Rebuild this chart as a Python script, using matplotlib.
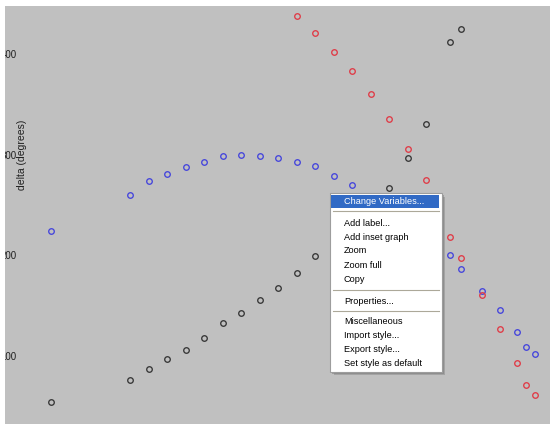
import matplotlib
matplotlib.use("Agg")
import matplotlib.pyplot as plt
from matplotlib.patches import Rectangle
from matplotlib.lines import Line2D

# --- data -------------------------------------------------------------
blue_x = [-3.3, 1, 2, 3, 4, 5, 6, 7, 8, 9, 10, 11, 12, 13,
          18.3, 18.9, 20.0, 21.0, 21.9, 22.4, 22.9]
blue_y = [224, 260, 274, 281, 288, 293, 299, 300, 299, 297, 293, 289, 279, 270,
          200, 186, 165, 146, 124, 109, 102]

red_x = [10, 11, 12, 13, 14, 15, 16, 17,
         18.3, 18.9, 20.0, 21.0, 21.9, 22.4, 22.9]
red_y = [438, 421, 402, 383, 360, 335, 306, 275,
         218, 197, 161, 127, 93, 71, 61]

black_x = [-3.3, 1, 2, 3, 4, 5, 6, 7, 8, 9, 10, 11,
           15, 16, 17, 18.3, 18.9]
black_y = [54, 76, 87, 97, 106, 118, 133, 143, 156, 168, 182, 199,
           267, 297, 330, 412, 425]

y_ticks = [100, 200, 300, 400]
y_label = "delta (degrees)"

menu_items = ["Change Variables...", None, "Add label...", "Add inset graph",
              "Zoom", "Zoom full", "Copy", None, "Properties...", None,
              "Miscellaneous", "Import style...", "Export style...",
              "Set style as default"]

# --- figure -----------------------------------------------------------
W, H = 550, 424
GRAY = "#c0c0c0"
fig = plt.figure(figsize=(W / 100, H / 100), dpi=100, facecolor="white")


def fx(px):
    return px / W


def fy(py):
    return 1 - py / H


ax = fig.add_axes([0, 0, 1, 1], facecolor=GRAY)
ax.set_xlim(-6.03, 23.70)
ax.set_ylim(32.45, 453.64)
for s in ax.spines.values():
    s.set_visible(False)
ax.set_xticks([])
ax.set_yticks(y_ticks)
ax.set_yticklabels([str(t) for t in y_ticks], family="Liberation Sans",
                   fontsize=7.0, color="#202020")
ax.tick_params(axis="y", length=0, pad=-11.0)
ax.set_ylabel(y_label, family="Liberation Sans", fontsize=7.5, color="#202020")

# keep the tick labels just inside the left edge, ylabel right next to them
fig.canvas.draw()
rend = fig.canvas.get_renderer()
ext = [t.get_window_extent(rend) for t in ax.get_yticklabels()]
shift_px = 0.5 - min(e.x0 for e in ext)
ax.tick_params(axis="y", pad=-11.0 - shift_px * 72 / 100)
tick_right = max(e.x1 for e in ext) + shift_px
lab_w = ax.yaxis.label.get_window_extent(rend).width
ax.yaxis.set_label_coords(fx(tick_right + 0.5 + lab_w), fy(155))

mk = dict(linestyle="none", marker="o", markersize=4.0, markeredgewidth=0.95,
          markerfacecolor="none", clip_on=True)
ax.plot(black_x, black_y, markeredgecolor="#363636", **mk)
ax.plot(blue_x, blue_y, markeredgecolor="#4444dc", **mk)
ax.plot(red_x, red_y, markeredgecolor="#e03a46", **mk)

# white window margins on the left and top
fig.add_artist(Rectangle((0, 0), fx(5), 1, transform=fig.transFigure,
                         facecolor="white", edgecolor="none", zorder=10))
fig.add_artist(Rectangle((0, fy(6)), 1, 6 / H, transform=fig.transFigure,
                         facecolor="white", edgecolor="none", zorder=10))

# --- context menu -----------------------------------------------------
mx0, mx1, my0, my1 = 330, 442, 193, 372


def prect(x0, y0, x1, y1, z, **kw):
    fig.add_artist(Rectangle((fx(x0), fy(y1)), fx(x1) - fx(x0), fy(y0) - fy(y1),
                             transform=fig.transFigure, zorder=z, **kw))


prect(mx0 + 4, my0 + 4, mx1 + 3, my1 + 3, 20, facecolor="#8c8c8c",
      edgecolor="none", alpha=0.55)
prect(mx0 + 2, my0 + 2, mx1 + 2, my1 + 2, 20.5, facecolor="#7a7a7a",
      edgecolor="none", alpha=0.5)
prect(mx0, my0, mx1, my1, 21, facecolor="white", edgecolor="#9d9d9d",
      linewidth=0.8)
prect(331, 195, 439, 208, 22, facecolor="#316ac5", edgecolor="none")

text_y = {0: 201.5, 2: 223, 3: 237, 4: 251, 5: 265, 6: 279, 8: 301,
          10: 322, 11: 336, 12: 350, 13: 364}
sep_y = {1: 211, 7: 289.5, 9: 311}
for i, item in enumerate(menu_items):
    if item is None:
        fig.add_artist(Line2D([fx(333), fx(439)], [fy(sep_y[i])] * 2,
                              transform=fig.transFigure, color="#aca899",
                              linewidth=0.8, zorder=22))
        continue
    fig.text(fx(344), fy(text_y[i]), item, ha="left", va="center",
             family="Liberation Sans", fontsize=6.6,
             color="white" if i == 0 else "black", zorder=23)

fig.savefig("out.png", dpi=100, facecolor="white")
